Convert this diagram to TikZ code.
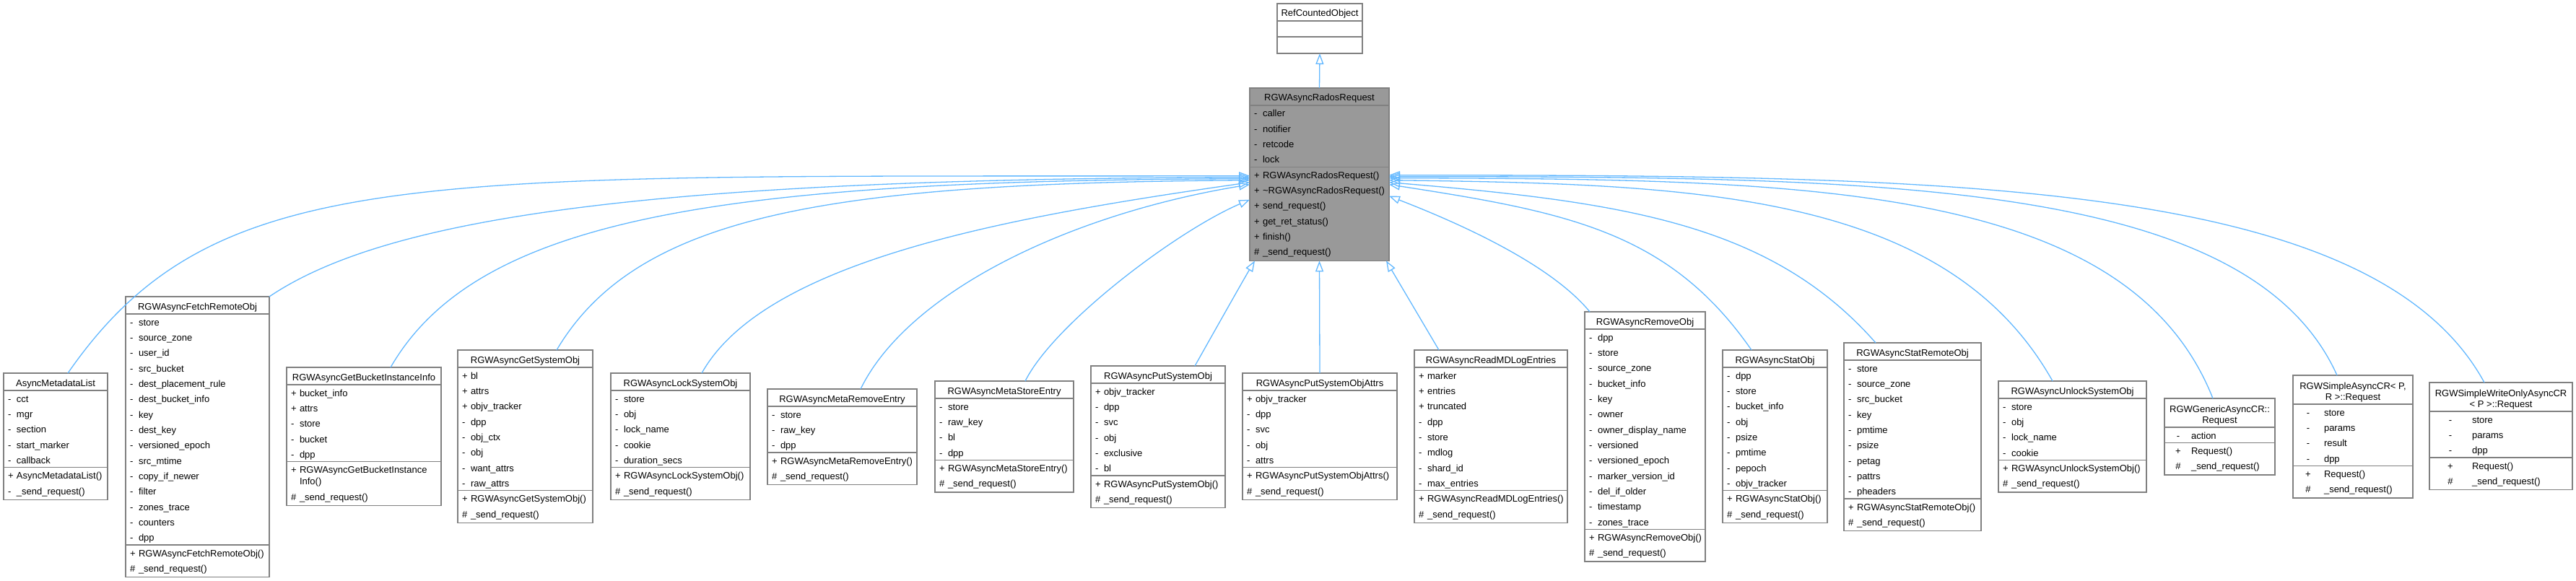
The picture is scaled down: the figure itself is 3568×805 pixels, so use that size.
\documentclass[tikz,border=0pt]{standalone}
\usepackage{fontspec}
\setmainfont{Liberation Sans}
\usetikzlibrary{arrows.meta,calc}
\definecolor{edgec}{HTML}{63B8FF}
\definecolor{boxline}{HTML}{808080}
\definecolor{mainfill}{HTML}{999999}
\tikzset{
 clsbox/.style={draw=boxline, line width=1.4pt, inner sep=0pt, outer sep=0pt, rectangle},
 divider/.style={draw=boxline, line width=1.4pt},
 txt/.style={inner sep=0pt, outer sep=0pt, font=\fontsize{13pt}{15pt}\selectfont, text=black},
 inh/.style={draw=edgec, line width=1.3pt, -{Triangle[open, length=15pt, width=11pt]}},
}
% #1 name #2 x1 #3 x2 #4 ytop #5 title height #6 attr height #7 method height #8 fill
\newcommand\cls[8]{%
 \pgfmathsetmacro\clsw{#3-#2}%
 \pgfmathsetmacro\clsh{#5+#6+#7}%
 \node[clsbox, fill=#8, minimum width=\clsw pt, minimum height=\clsh pt, anchor=north west] (#1) at (#2,#4) {};
 \draw[divider] (#2,#4+#5) -- (#3,#4+#5);
 \draw[divider] (#2,#4+#5+#6) -- (#3,#4+#5+#6);
}
% #1 name #2 x1 #3 x2 #4 baseline #5 text
\newcommand\ttl[5]{\node[txt, anchor=base] (#1) at ({(#2+#3)/2},{#4}) {#5};}
% #1 prefix #2 xsym #3 xname #4 baseline0 #5 list
\newcommand\rowsL[5]{%
 \foreach \s/\t [count=\i from 0] in {#5}{%
  \node[txt, anchor=base west] (#1s\i) at ({#2},{#4+\i*21.333}) {\s};
  \node[txt, anchor=base west] (#1n\i) at ({#3},{#4+\i*21.333}) {\t};
 }}
\newcommand\rowsC[5]{%
 \foreach \s/\t [count=\i from 0] in {#5}{%
  \node[txt, anchor=base] (#1s\i) at ({#2},{#4+\i*21.333}) {\s};
  \node[txt, anchor=base west] (#1n\i) at ({#3},{#4+\i*21.333}) {\t};
 }}
% #1 name #2 x1 #3 x2 #4 ytop #5 title #6 nA #7 nM #8 attrs #9 methods
\newcommand\umlclass[9]{%
 \cls{#1}{#2}{#3}{#4}{24}{#6*21.333}{#7*21.333+2}{white}%
 \ttl{#1t}{#2}{#3}{#4+18}{#5}%
 \rowsL{#1a}{#2+6}{#2+18}{#4+24+16}{#8}%
 \rowsL{#1m}{#2+6}{#2+18}{#4+24+#6*21.333+16}{#9}%
}
\begin{document}
\begin{tikzpicture}[x=1pt,y=-1pt]
\useasboundingbox (0,0) rectangle (3568,805);

% base classes
\cls{rc}{1769}{1887}{5}{24}{22}{23}{white}
\ttl{rct}{1769}{1887}{23}{RefCountedObject}

\cls{rr}{1731}{1924}{122}{24}{4*21.333}{6*21.333+2}{mainfill}
\ttl{rrt}{1731}{1924}{140}{RGWAsyncRadosRequest}
\rowsL{rra}{1737}{1749}{162}{-/caller,-/notifier,-/retcode,-/lock}
\rowsL{rrm}{1737}{1749}{122+24+4*21.333+16}{+/RGWAsyncRadosRequest(),+/\textasciitilde RGWAsyncRadosRequest(),+/send\_request(),+/get\_ret\_status(),+/finish(),\#/\_send\_request()}

% derived classes
\umlclass{aml}{5}{149}{517}{AsyncMetadataList}{5}{2}
 {-/cct,-/mgr,-/section,-/start\_marker,-/callback}
 {+/AsyncMetadataList(),-/\_send\_request()}

\umlclass{farm}{174}{373}{411}{RGWAsyncFetchRemoteObj}{15}{2}
 {-/store,-/source\_zone,-/user\_id,-/src\_bucket,-/dest\_placement\_rule,-/dest\_bucket\_info,-/key,-/dest\_key,-/versioned\_epoch,-/src\_mtime,-/copy\_if\_newer,-/filter,-/zones\_trace,-/counters,-/dpp}
 {+/RGWAsyncFetchRemoteObj(),\#/\_send\_request()}

\cls{gbii}{397}{611}{509}{24}{5*21.333}{2*21.333+2+16}{white}
\ttl{gbiit}{397}{611}{527}{RGWAsyncGetBucketInstanceInfo}
\rowsL{gbiia}{403}{415}{549}{+/bucket\_info,+/attrs,-/store,-/bucket,-/dpp}
\node[txt, anchor=base west] (gbiims0) at (403,{509+24+5*21.333+16}) {+};
\node[txt, anchor=base west] (gbiimn0) at (415,{509+24+5*21.333+16}) {RGWAsyncGetBucketInstance};
\node[txt, anchor=base west] (gbiimn0b) at (415,{509+24+5*21.333+32}) {Info()};
\node[txt, anchor=base west] (gbiims1) at (403,{509+24+5*21.333+53.333}) {\#};
\node[txt, anchor=base west] (gbiimn1) at (415,{509+24+5*21.333+53.333}) {\_send\_request()};

\umlclass{gso}{634}{821}{485}{RGWAsyncGetSystemObj}{8}{2}
 {+/bl,+/attrs,+/objv\_tracker,-/dpp,-/obj\_ctx,-/obj,-/want\_attrs,-/raw\_attrs}
 {+/RGWAsyncGetSystemObj(),\#/\_send\_request()}

\umlclass{lso}{846}{1039}{517}{RGWAsyncLockSystemObj}{5}{2}
 {-/store,-/obj,-/lock\_name,-/cookie,-/duration\_secs}
 {+/RGWAsyncLockSystemObj(),\#/\_send\_request()}

\umlclass{mre}{1063}{1270}{539}{RGWAsyncMetaRemoveEntry}{3}{2}
 {-/store,-/raw\_key,-/dpp}
 {+/RGWAsyncMetaRemoveEntry(),\#/\_send\_request()}

\umlclass{mse}{1295}{1487}{528}{RGWAsyncMetaStoreEntry}{4}{2}
 {-/store,-/raw\_key,-/bl,-/dpp}
 {+/RGWAsyncMetaStoreEntry(),\#/\_send\_request()}

\umlclass{pso}{1511}{1697}{507}{RGWAsyncPutSystemObj}{6}{2}
 {+/objv\_tracker,-/dpp,-/svc,-/obj,-/exclusive,-/bl}
 {+/RGWAsyncPutSystemObj(),\#/\_send\_request()}

\umlclass{psoa}{1721}{1935}{517}{RGWAsyncPutSystemObjAttrs}{5}{2}
 {+/objv\_tracker,-/dpp,-/svc,-/obj,-/attrs}
 {+/RGWAsyncPutSystemObjAttrs(),\#/\_send\_request()}

\umlclass{rmle}{1959}{2171}{485}{RGWAsyncReadMDLogEntries}{8}{2}
 {+/marker,+/entries,+/truncated,-/dpp,-/store,-/mdlog,-/shard\_id,-/max\_entries}
 {+/RGWAsyncReadMDLogEntries(),\#/\_send\_request()}

\umlclass{rmo}{2195}{2362}{432}{RGWAsyncRemoveObj}{13}{2}
 {-/dpp,-/store,-/source\_zone,-/bucket\_info,-/key,-/owner,-/owner\_display\_name,-/versioned,-/versioned\_epoch,-/marker\_version\_id,-/del\_if\_older,-/timestamp,-/zones\_trace}
 {+/RGWAsyncRemoveObj(),\#/\_send\_request()}

\umlclass{sto}{2386}{2531}{485}{RGWAsyncStatObj}{8}{2}
 {-/dpp,-/store,-/bucket\_info,-/obj,-/psize,-/pmtime,-/pepoch,-/objv\_tracker}
 {+/RGWAsyncStatObj(),\#/\_send\_request()}

\umlclass{srmo}{2554}{2744}{475}{RGWAsyncStatRemoteObj}{9}{2}
 {-/store,-/source\_zone,-/src\_bucket,-/key,-/pmtime,-/psize,-/petag,-/pattrs,-/pheaders}
 {+/RGWAsyncStatRemoteObj(),\#/\_send\_request()}

\umlclass{uso}{2768}{2973}{528}{RGWAsyncUnlockSystemObj}{4}{2}
 {-/store,-/obj,-/lock\_name,-/cookie}
 {+/RGWAsyncUnlockSystemObj(),\#/\_send\_request()}

\cls{gacr}{2998}{3151}{552}{40}{1*21.333}{2*21.333+2}{white}
\ttl{gacrt}{2998}{3151}{571}{RGWGenericAsyncCR::}
\ttl{gacrtb}{2998}{3151}{586}{Request}
\rowsC{gacra}{3017}{3035}{552+40+16}{-/action}
\rowsC{gacrm}{3017}{3035}{552+40+21.333+16}{+/Request(),\#/\_send\_request()}

\cls{sacr}{3176}{3342}{520}{40}{4*21.333}{2*21.333+2}{white}
\ttl{sacrt}{3176}{3342}{539}{RGWSimpleAsyncCR< P,}
\ttl{sacrtb}{3176}{3342}{554}{R >::Request}
\rowsC{sacra}{3197}{3219}{520+40+16}{-/store,-/params,-/result,-/dpp}
\rowsC{sacrm}{3197}{3219}{520+40+4*21.333+16}{+/Request(),\#/\_send\_request()}

\cls{swo}{3365}{3563}{530}{40}{3*21.333}{2*21.333+2}{white}
\ttl{swot}{3365}{3563}{549}{RGWSimpleWriteOnlyAsyncCR}
\ttl{swotb}{3365}{3563}{564}{< P >::Request}
\rowsC{swoa}{3394}{3424}{530+40+16}{-/store,-/params,-/dpp}
\rowsC{swom}{3394}{3424}{530+40+3*21.333+16}{+/Request(),\#/\_send\_request()}

% inheritance connectors
\draw[inh] (rr.north) -- (rc.south);

\draw[inh] ($(aml.north west)+(89,0)$) .. controls (300,220) and (585,246) .. ($(rr.west)+(0,2)$);
\draw[inh] (farm.north east) .. controls (536,301) and (900,248) .. ($(rr.west)+(0,4)$);
\draw[inh] ($(gbii.north west)+(144,0)$) .. controls (661,301) and (1000,250) .. ($(rr.west)+(0,6)$);
\draw[inh] ($(gso.north west)+(137,0)$) .. controls (883,296) and (1150,254) .. ($(rr.west)+(0,8)$);
\draw[inh] ($(lso.north west)+(126,0)$) .. controls (1060,360) and (1400,300) .. ($(rr.west)+(0,11)$);
\draw[inh] ($(mre.north west)+(129,0)$) .. controls (1258,404) and (1481,297) .. ($(rr.west)+(0,14)$);
\draw[inh] ($(mse.north west)+(125,0)$) .. controls (1460,448) and (1630,320) .. ($(rr.west)+(0,35)$);
\draw[inh] ($(pso.north west)+(144,0)$) .. controls (1668,484) and (1722,388) .. ($(rr.south west)+(7,0)$);
\draw[inh] (psoa.north) -- (rr.south);
\draw[inh] ($(rmle.north west)+(34,0)$) -- ($(rr.south east)+(-4,0)$);

\draw[inh] ($(rmo.north west)+(7,0)$) .. controls (2151,370) and (2036,315) .. ($(rr.east)+(0,30)$);
\draw[inh] ($(sto.north west)+(40,0)$) .. controls (2312,321) and (2172,294) .. ($(rr.east)+(0,14)$);
\draw[inh] ($(srmo.north west)+(44,0)$) .. controls (2453,310) and (2250,280) .. ($(rr.east)+(0,11)$);
\draw[inh] ($(uso.north west)+(75,0)$) .. controls (2696,267) and (2350,255) .. ($(rr.east)+(0,8)$);
\draw[inh] ($(gacr.north west)+(67,0)$) .. controls (2947,254) and (2500,248) .. ($(rr.east)+(0,5)$);
\draw[inh] ($(sacr.north west)+(61,0)$) .. controls (3114,247) and (2600,245) .. ($(rr.east)+(0,3)$);
\draw[inh] ($(swo.north west)+(76,0)$) .. controls (3287,248) and (2700,243) .. ($(rr.east)+(0,1)$);
\end{tikzpicture}
\end{document}
